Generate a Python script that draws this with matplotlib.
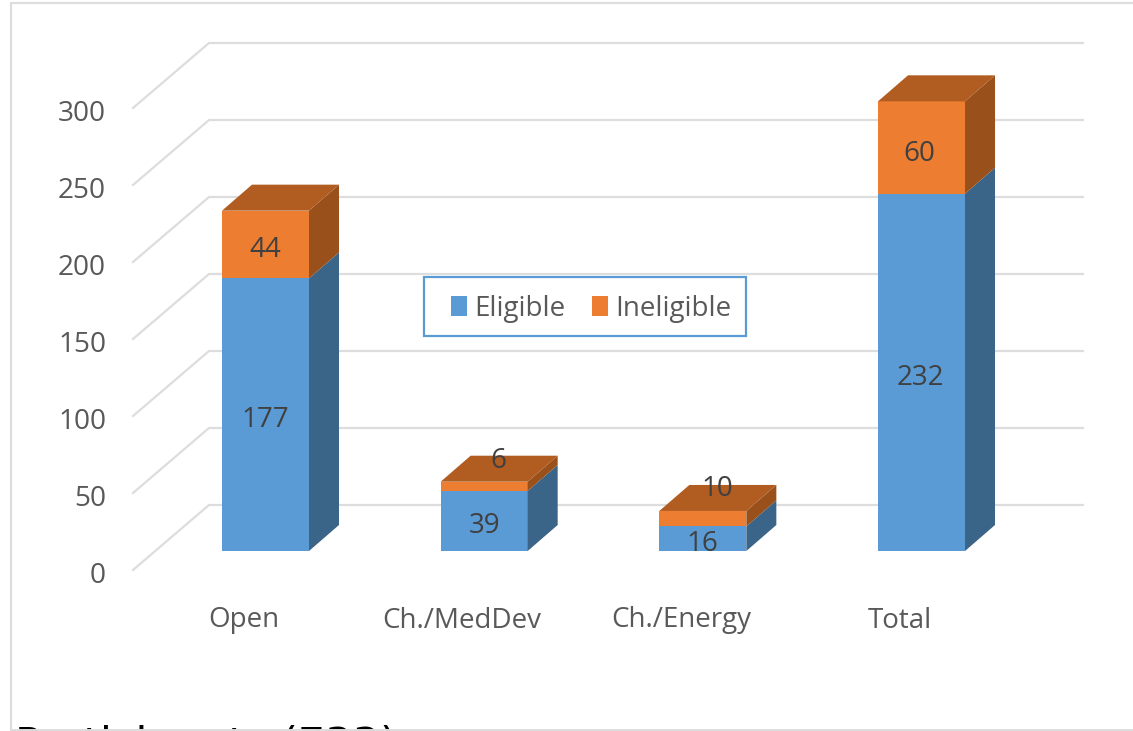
import matplotlib
matplotlib.use("Agg")
import matplotlib.pyplot as plt
from matplotlib.patches import Polygon, Rectangle

categories = ["Open", "Ch./MedDev", "Ch./Energy", "Total"]
eligible = [177, 39, 16, 232]
ineligible = [44, 6, 10, 60]
y_ticks = [0, 50, 100, 150, 200, 250, 300]

W, H = 1133, 731
BLUE, BLUE_SIDE = "#5B9BD5", "#3A6488"
ORANGE, ORANGE_SIDE, ORANGE_TOP = "#ED7D31", "#9A501B", "#B15C20"
GRID = "#DDDDDD"
TXT = "#595959"
LBL = "#404040"
plt.rcParams["font.family"] = ["Open Sans", "DejaVu Sans"]

# pixel helpers -> data scale: 218.67 px per category, 1.54 px per unit
PX_X, PX_Y = 218.67, 1.54
X0, Y0 = 265.5, 551.0
fig = plt.figure(figsize=(W / 100, H / 100), dpi=100)
ax = fig.add_axes([0, 0, 1, 1])
ax.set_xlim(-X0 / PX_X, (W - X0) / PX_X)
ax.set_ylim((Y0 - H) / PX_Y, Y0 / PX_Y)
ax.axis("off")

def xp(p):
    return (p - X0) / PX_X
def yoff(p):
    return (Y0 - p) / PX_Y

bar_w = 87 / PX_X
dx, dy = 30 / PX_X, 26 / PX_Y

# outer frame of the slide
ax.plot([xp(11), xp(11), xp(W)], [yoff(H), yoff(3), yoff(3)], color=GRID, lw=1.6, zorder=1)
ax.plot([xp(11), xp(W)], [yoff(729.5), yoff(729.5)], color=GRID, lw=1.4, zorder=6)

# gridlines: front floor -> back wall -> right
front_0, back_0 = yoff(570), yoff(505)
for v in y_ticks:
    ax.plot([xp(133), xp(209), xp(1083)], [front_0 + v, back_0 + v, back_0 + v],
            color=GRID, lw=1.6, zorder=1, solid_joinstyle="miter")
    ax.text(xp(106), front_0 + v - 6 / PX_Y, str(v), ha="right", va="center", color=TXT, fontsize=20.2)

x = list(range(len(categories)))
b1 = ax.bar(x, eligible, width=bar_w, color=BLUE, zorder=3, label="Eligible")
b2 = ax.bar(x, ineligible, width=bar_w, bottom=eligible, color=ORANGE, zorder=3, label="Ineligible")

for i, (e, n) in enumerate(zip(eligible, ineligible)):
    r = i + bar_w / 2
    l = i - bar_w / 2
    ax.add_patch(Polygon([(r, 0), (r + dx, dy), (r + dx, e + dy), (r, e)], fc=BLUE_SIDE, ec="none", zorder=3))
    ax.add_patch(Polygon([(r, e), (r + dx, e + dy), (r + dx, e + n + dy), (r, e + n)], fc=ORANGE_SIDE, ec="none", zorder=3))
    t = e + n
    ax.add_patch(Polygon([(l, t), (l + dx, t + dy), (r + dx, t + dy), (r, t)], fc=ORANGE_TOP, ec="none", zorder=3))
    ax.text(i - 22 / PX_X, yoff(620.5), categories[i], ha="center", va="center", color=TXT, fontsize=20)

# data labels: px shift of each label from the middle of its segment
e_down = [5, 5, 5, 6]
n_up = [-5, 25, 30, -6]
n_shift = [0, 14, 14, -2]
e_shift = [0, 0, 0, -1]
for i, (e, n) in enumerate(zip(eligible, ineligible)):
    ax.text(i + e_shift[i] / PX_X, e / 2 - e_down[i] / PX_Y, str(e), ha="center", va="center", color=LBL, fontsize=20, zorder=5)
    ax.text(i + n_shift[i] / PX_X, e + n / 2 + n_up[i] / PX_Y, str(n),
            ha="center", va="center", color=LBL, fontsize=20, zorder=5)

# legend frame and entries
ax.add_patch(Rectangle((xp(423.5), yoff(336)), 322.5 / PX_X, 59 / PX_Y, fc="white", ec=BLUE, lw=1.6, zorder=6))
leg = ax.legend(handles=[b1, b2], loc="center", ncol=2,
                bbox_to_anchor=(591 / W, 1 - 308.5 / H), fontsize=20,
                frameon=False,
                handlelength=0.6, handleheight=0.72, handletextpad=0.25,
                columnspacing=0.95, borderpad=0, labelcolor=TXT)
leg.set_zorder(7)

ax.text(xp(15), yoff(758), "Participants (733)", ha="left", va="baseline",
        color="black", fontsize=31, family=["DejaVu Sans"], zorder=5, clip_on=True)

fig.savefig("out.png", dpi=100)
